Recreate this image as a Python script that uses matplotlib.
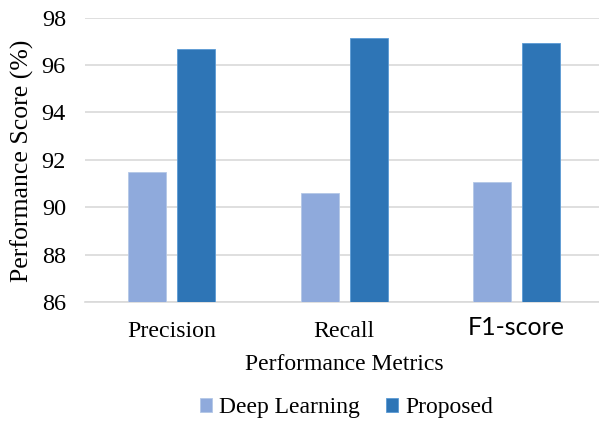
import numpy as np
import matplotlib
matplotlib.use("Agg")
import matplotlib.pyplot as plt
from matplotlib.transforms import ScaledTranslation

metrics = ["Precision", "Recall", "F1-score"]
deep_learning = [91.5, 90.62, 91.05]
proposed = [96.69, 97.13, 96.92]
series_names = ["Deep Learning", "Proposed"]
y_ticks = [86, 88, 90, 92, 94, 96, 98]

light_blue = "#8FAADC"
dark_blue = "#2E75B6"
grid_gray = "#D9D9D9"

plt.rcParams["font.family"] = ["Liberation Serif", "DejaVu Serif"]

fig = plt.figure(figsize=(5.99, 4.21), dpi=100)
# axes runs slightly past the right edge of the canvas
ax = fig.add_axes([85.4 / 599, (421 - 302) / 421, (603 - 85.4) / 599, (302 - 17.7) / 421])

x = np.arange(len(metrics))
width = 0.222
offset = 0.142
ax.bar(x - offset, deep_learning, width, color=light_blue,
       edgecolor="#B4C7E7", linewidth=0.6, label=series_names[0], zorder=3)
ax.bar(x + offset, proposed, width, color=dark_blue,
       edgecolor="#5B9BD5", linewidth=0.6, label=series_names[1], zorder=3)

ax.set_ylim(86, 98)
ax.set_xlim(-0.5, 2.5)
ax.set_yticks(y_ticks)
ax.set_yticklabels([str(t) for t in y_ticks], fontsize=17.5)
ax.yaxis.grid(True, color=grid_gray, linewidth=1.2, zorder=0)
ax.tick_params(axis="both", length=0)
ax.tick_params(axis="y", pad=14)
for side in ["top", "right", "left"]:
    ax.spines[side].set_visible(False)
ax.spines["bottom"].set_color(grid_gray)
ax.spines["bottom"].set_linewidth(1.2)

ax.set_xticks(x)
ax.set_xticklabels(metrics, fontsize=17.2)
ax.tick_params(axis="x", pad=14)
# the last category label uses a sans face, sitting a little higher
f1_label = ax.get_xticklabels()[2]
f1_label.set_fontfamily(["Lato", "DejaVu Sans"])
f1_label.set_fontsize(18)
f1_label.set_transform(f1_label.get_transform() + ScaledTranslation(0, 4 / 72, fig.dpi_scale_trans))

ax.set_xlabel("Performance Metrics", fontsize=17, labelpad=8)
ax.set_ylabel("Performance Score (%)", fontsize=18.5, va="center")
ax.yaxis.set_label_coords(22 / 599, (421 - 161) / 421, transform=fig.transFigure)

fig.legend(loc="center", bbox_to_anchor=(346.5 / 599, (421 - 408) / 421), ncol=2, frameon=False,
           fontsize=17, handlelength=0.5, handleheight=0.5, handletextpad=0.3,
           columnspacing=1.1)

fig.savefig("out.png", dpi=100)
